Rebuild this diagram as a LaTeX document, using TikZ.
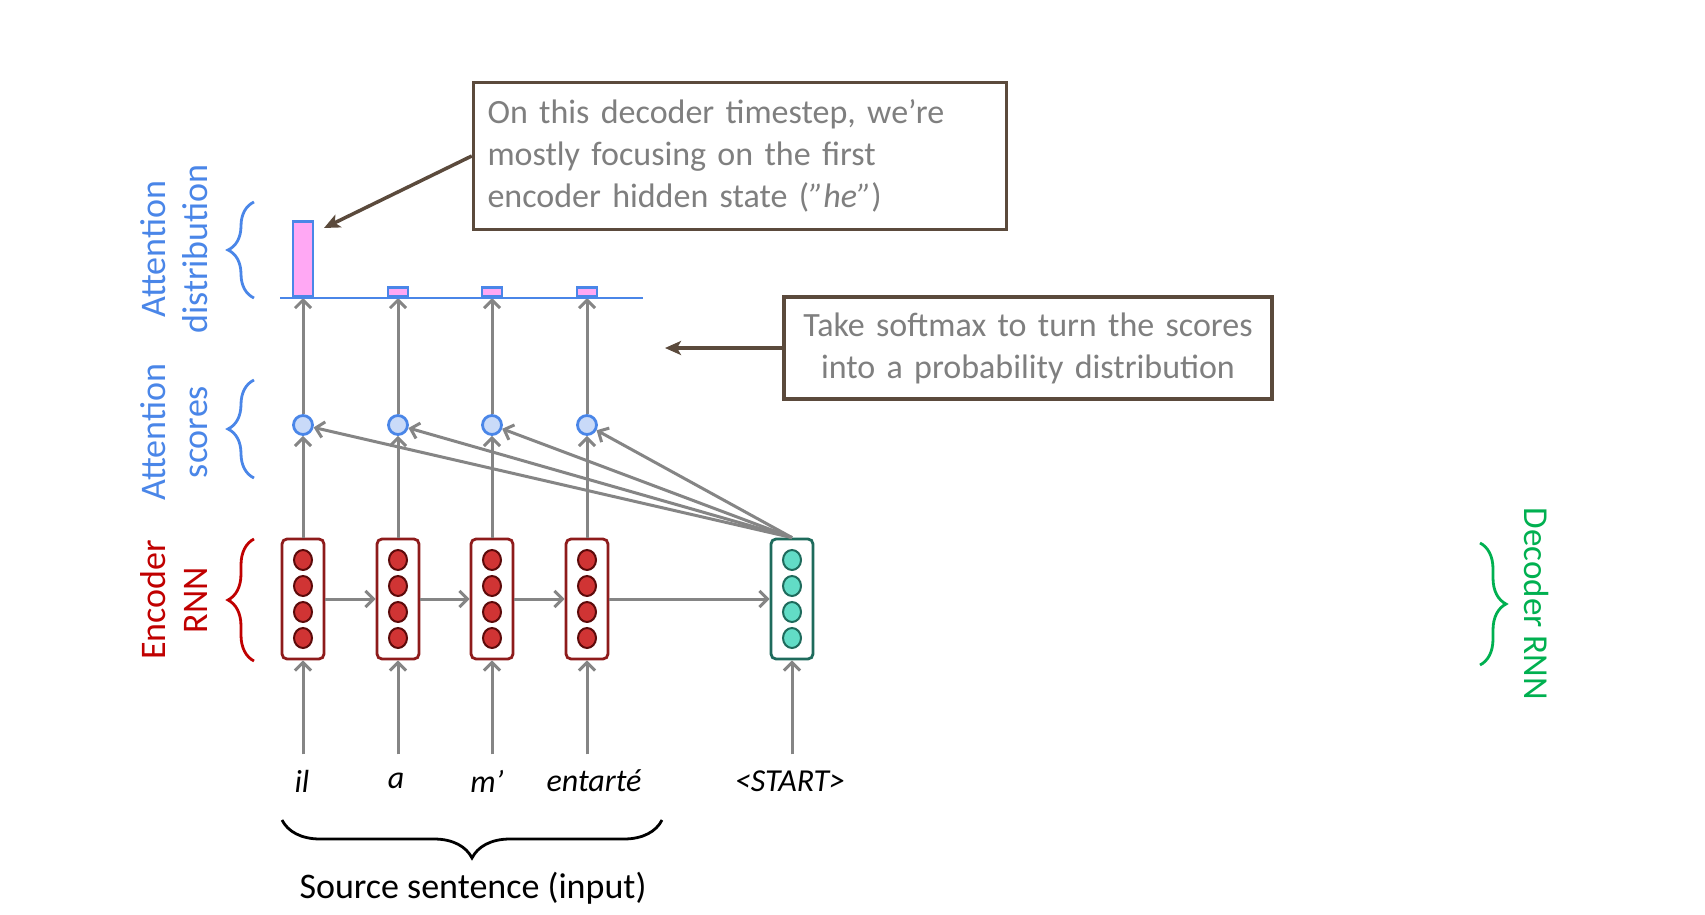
\documentclass[tikz,border=0pt]{standalone}
\usepackage{fontspec}
\setmainfont{Carlito}
\usetikzlibrary{calc,arrows.meta,decorations.pathreplacing,positioning}
\definecolor{encred}{HTML}{8E1B1B}
\definecolor{encfill}{HTML}{D03434}
\definecolor{encdark}{HTML}{5C0A0A}
\definecolor{decteal}{HTML}{1E6B5C}
\definecolor{decfill}{HTML}{62DCC6}
\definecolor{attblue}{HTML}{4A86E8}
\definecolor{scorefill}{HTML}{C9DAF8}
\definecolor{barpink}{HTML}{FFA8F4}
\definecolor{notebrown}{HTML}{5B4A3C}
\definecolor{notegray}{HTML}{7F7F7F}
\definecolor{arrgray}{HTML}{858585}
\definecolor{labred}{HTML}{C00000}
\definecolor{labgreen}{HTML}{00B050}
\tikzset{
	encbox/.style={draw=encred, line width=2.8pt, rounded corners=5pt, minimum width=42pt, minimum height=120pt, fill=white},
	decbox/.style={encbox, draw=decteal},
	enccirc/.style={draw=encdark, line width=2pt, fill=encfill},
	deccirc/.style={draw=decteal, line width=2pt, fill=decfill},
	score/.style={circle, draw=attblue, line width=2.8pt, fill=scorefill, minimum size=19pt, inner sep=0pt},
	bar/.style={draw=attblue, line width=2.8pt, fill=barpink, minimum width=20pt, inner sep=0pt, anchor=south},
	garrow/.style={draw=arrgray, line width=3pt, -{Straight Barb[length=8pt,width=16pt]}},
	notebox/.style={draw=notebrown, line width=3.5pt, inner sep=14pt, text=notegray, font=\fontsize{34}{42}\selectfont},
	notearrow/.style={draw=notebrown, line width=3.5pt, -{Stealth[length=16pt,width=14pt,inset=4pt]}},
	sidelab/.style={align=center, font=\fontsize{36}{42}\selectfont},
	sidebrace/.style={line width=2.8pt, decorate, decoration={brace, amplitude=26pt, aspect=0.5}},
	word/.style={font=\fontsize{32}{34}\selectfont\itshape}
}
\begin{document}
\begin{tikzpicture}[x=1pt, y=-1pt]
	%%%%% START %%%%%
	\useasboundingbox[fill=white] (0,0) rectangle (1705,915);
	
	% encoder / decoder states
	\node[encbox] (e1) at (303,599) {};
	\node[encbox] (e2) at (398,599) {};
	\node[encbox] (e3) at (492,599) {};
	\node[encbox] (e4) at (587,599) {};
	\node[decbox] (d1) at (792,599) {};
	\foreach \n in {e1,e2,e3,e4}
		\foreach \dy in {-39,-13,13,39}
			\draw[enccirc] ($(\n)+(0,\dy)$) ellipse (9 and 10);
	\foreach \dy in {-39,-13,13,39}
		\draw[deccirc] ($(d1)+(0,\dy)$) ellipse (9 and 10);
	
	\draw[garrow] (e1.east) -- (e2.west);
	\draw[garrow] (e2.east) -- (e3.west);
	\draw[garrow] (e3.east) -- (e4.west);
	\draw[garrow] (e4.east) -- (d1.west);
	
	% attention scores
	\node[score] (s1) at (303,425) {};
	\node[score] (s2) at (398,425) {};
	\node[score] (s3) at (492,425) {};
	\node[score] (s4) at (587,425) {};
	
	\draw[garrow] (e1.north) -- (s1);
	\draw[garrow] (e2.north) -- (s2);
	\draw[garrow] (e3.north) -- (s3);
	\draw[garrow] (e4.north) -- (s4);
	
	\draw[garrow] (d1.north) -- (s1);
	\draw[garrow] (d1.north) -- (s2);
	\draw[garrow] (d1.north) -- (s3);
	\draw[garrow] (d1.north) -- (s4);
	
	% attention distribution
	\coordinate (base) at (280,298);
	\draw[garrow] (s1) -- (s1 |- base);
	\draw[garrow] (s2) -- (s2 |- base);
	\draw[garrow] (s3) -- (s3 |- base);
	\draw[garrow] (s4) -- (s4 |- base);
	\node[bar, minimum height=75pt] (b1) at (s1 |- base) {};
	\node[bar, minimum height=9pt] (b2) at (s2 |- base) {};
	\node[bar, minimum height=9pt] (b3) at (s3 |- base) {};
	\node[bar, minimum height=9pt] (b4) at (s4 |- base) {};
	\draw[draw=attblue, line width=2.8pt] (base) -- (643,298);
	
	% input words
	\node[word] (w1) at (302,781) {il};
	\node[word] (w2) at (396,781) {a};
	\node[word] (w3) at (487,781) {m’};
	\node[word] (w4) at (594,781) {entarté};
	\node[word] (w5) at (790,781) {<START>};
	
	\draw[garrow, shorten <=12pt] (e1 |- w1.north) -- (e1.south);
	\draw[garrow, shorten <=12pt] (e2 |- w1.north) -- (e2.south);
	\draw[garrow, shorten <=12pt] (e3 |- w1.north) -- (e3.south);
	\draw[garrow, shorten <=12pt] (e4 |- w1.north) -- (e4.south);
	\draw[garrow, shorten <=12pt] (d1 |- w1.north) -- (d1.south);
	
	\draw[line width=2.8pt, decorate, decoration={brace, amplitude=38pt}] (662,820) -- (282,820);
	\node[font=\fontsize{36}{40}\selectfont] (src) at (473,888) {Source sentence (input)};
	
	% side labels
	\node[sidelab, rotate=90, text=attblue] (ldist) at (174,249) {Attention\\distribution};
	\node[sidelab, rotate=90, text=attblue] (lscore) at (174,432) {Attention\\scores};
	\node[sidelab, rotate=90, text=labred] (lenc) at (174,600) {Encoder\\RNN};
	\node[sidelab, rotate=-90, text=labgreen, font=\fontsize{35}{40}\selectfont] (ldec) at (1537,604) {Decoder RNN};
	\draw[sidebrace, attblue] (254,298) -- (254,202);
	\draw[sidebrace, attblue] (254,478) -- (254,380);
	\draw[sidebrace, labred] (254,661) -- (254,539);
	\draw[sidebrace, labgreen] (1480,543) -- (1480,665);
	
	% notes
	\node[notebox, text width=505pt, align=left, minimum height=147pt] (c1) at (740,156) {On this decoder timestep, we’re\\mostly focusing on the first\\encoder hidden state (\textit{”he”})};
	\node[notebox, text width=460pt, align=center, minimum height=102pt] (c2) at (1028,348) {Take softmax to turn the scores\\into a probability distribution};
	\coordinate (p1) at (324,228);
	\coordinate (p2) at (665,348);
	\draw[notearrow] (c1.west) -- (p1);
	\draw[notearrow] (c2.west) -- (p2);
	
	%%%%% END %%%%%
\end{tikzpicture}
\end{document}
